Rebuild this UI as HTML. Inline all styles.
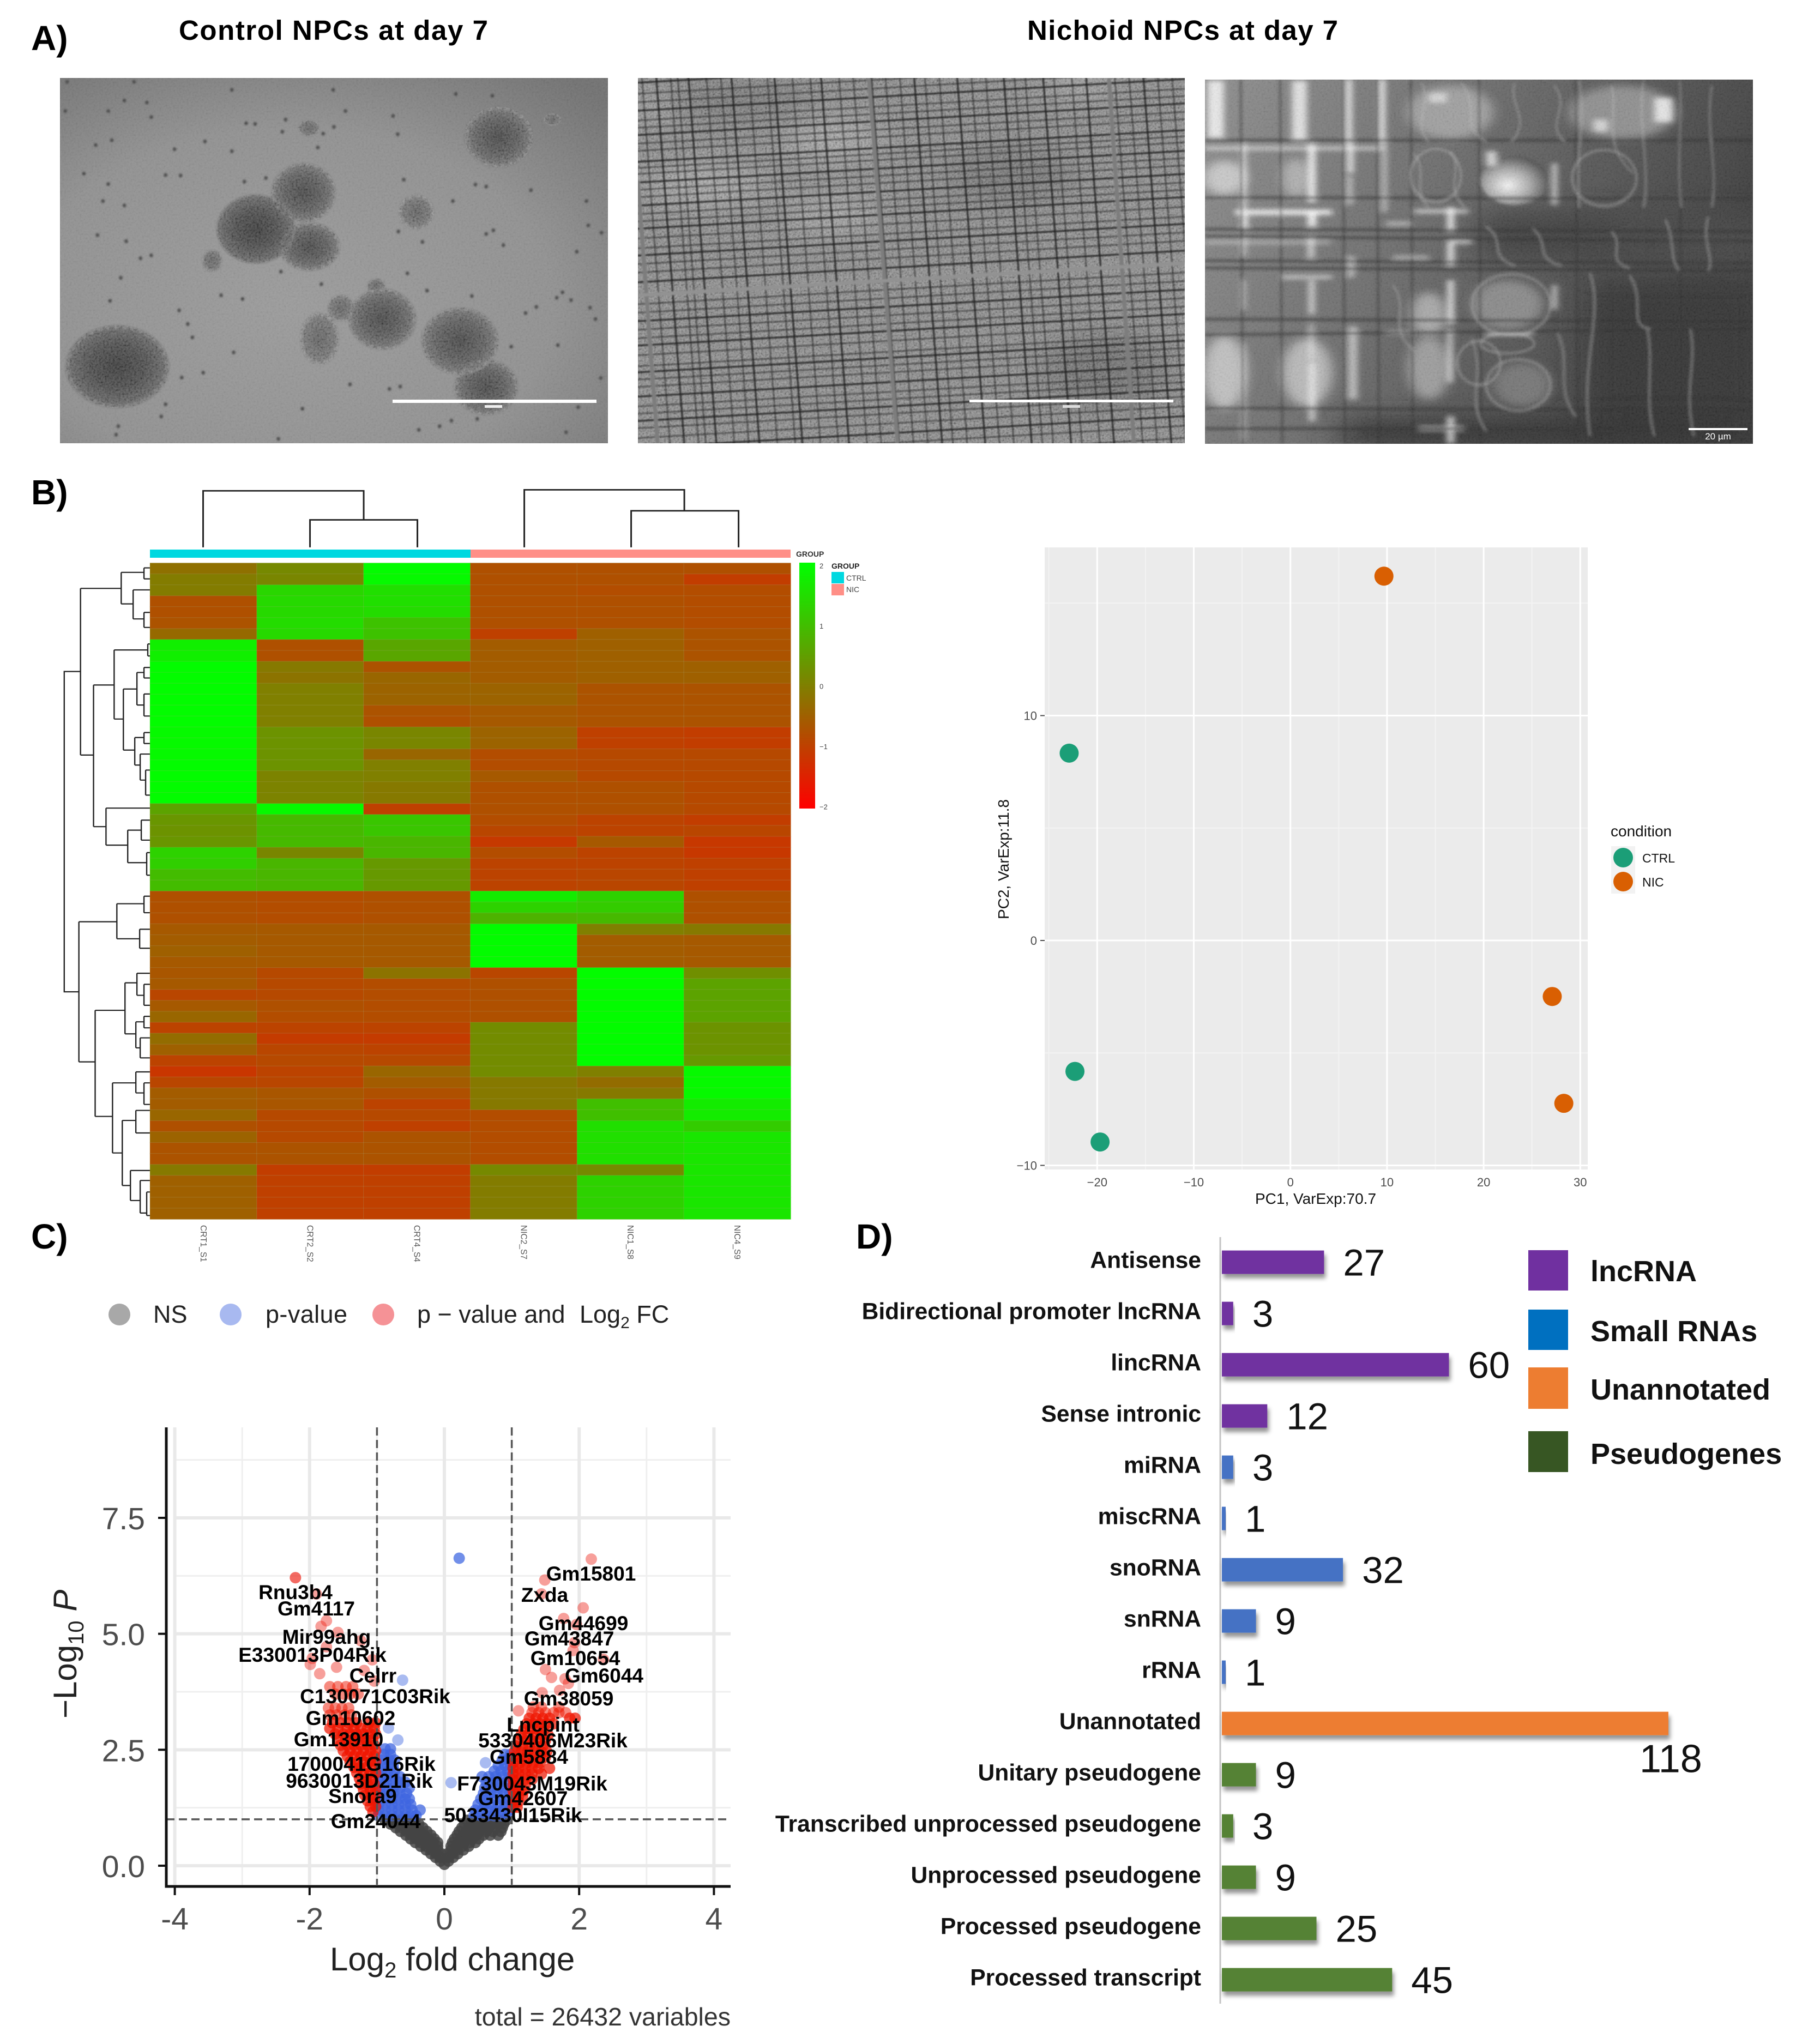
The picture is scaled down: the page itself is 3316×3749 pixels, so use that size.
<!DOCTYPE html>
<html lang="en">
<head>
<meta charset="utf-8">
<title>NPC figure</title>
<style>
html,body{margin:0;padding:0;background:#fff}
svg{display:block}
text{font-family:"Liberation Sans",sans-serif}
.ph{font-weight:bold;font-size:64px;fill:#000}
.ttl{font-weight:bold;font-size:51px;fill:#000}
.vl{font-weight:bold;font-size:37px;fill:#000;text-anchor:middle}
</style>
</head>
<body>
<svg id="fig" xmlns="http://www.w3.org/2000/svg" width="3316" height="3749" viewBox="0 0 3316 3749">
<defs>
<clipPath id="c1"><rect x="110" y="143" width="1005" height="670"/></clipPath>
<clipPath id="c2"><rect x="1170" y="143" width="1003" height="670"/></clipPath>
<clipPath id="c3"><rect x="2210" y="146" width="1005" height="668"/></clipPath>
<clipPath id="sphClip" transform="translate(100,130) scale(.657,.4464)">
 <ellipse cx="800" cy="975" rx="38" ry="55"/><ellipse cx="740" cy="1100" rx="55" ry="108"/><ellipse cx="898" cy="885" rx="26" ry="32"/>
 <ellipse cx="175" cy="1215" rx="145" ry="170"/><ellipse cx="1240" cy="272" rx="96" ry="125"/><ellipse cx="695" cy="500" rx="90" ry="122"/>
 <ellipse cx="712" cy="722" rx="85" ry="100"/><ellipse cx="562" cy="650" rx="110" ry="142"/><ellipse cx="1010" cy="580" rx="50" ry="72"/>
 <ellipse cx="915" cy="1020" rx="95" ry="126"/><ellipse cx="1205" cy="1300" rx="90" ry="115"/><ellipse cx="1132" cy="1110" rx="108" ry="138"/>
 <ellipse cx="440" cy="780" rx="28" ry="46"/><ellipse cx="710" cy="235" rx="30" ry="34"/><ellipse cx="1390" cy="200" rx="24" ry="25"/>
</clipPath>
<filter id="noise" x="0" y="0" width="100%" height="100%"><feTurbulence type="fractalNoise" baseFrequency="0.28" numOctaves="2" seed="4"/><feColorMatrix values="1.6 0 0 0 -.3  1.6 0 0 0 -.3  1.6 0 0 0 -.3  0 0 0 0 1"/></filter>
<filter id="soft" x="-5%" y="-5%" width="110%" height="110%"><feGaussianBlur stdDeviation="1.6"/></filter>
<filter id="softer" x="-5%" y="-5%" width="110%" height="110%"><feGaussianBlur stdDeviation="2.6"/></filter>
<filter id="tiny" x="-2%" y="-2%" width="104%" height="104%"><feGaussianBlur stdDeviation="1"/></filter>
<filter id="blur20" x="-60%" y="-60%" width="220%" height="220%"><feGaussianBlur stdDeviation="16"/></filter>
<filter id="blur50" x="-100%" y="-150%" width="300%" height="400%"><feGaussianBlur stdDeviation="50"/></filter>
<filter id="blur8" x="-100%" y="-30%" width="300%" height="160%"><feGaussianBlur stdDeviation="8"/></filter>
<filter id="barShadow" x="-10%" y="-30%" width="125%" height="180%"><feDropShadow dx="3" dy="8" stdDeviation="4" flood-color="#000" flood-opacity=".42"/></filter>
<radialGradient id="sphDark"><stop offset="0" stop-color="#2f2f2f"/><stop offset=".55" stop-color="#444"/><stop offset=".92" stop-color="#606060"/><stop offset="1" stop-color="#777"/></radialGradient>
<radialGradient id="sphMid"><stop offset="0" stop-color="#3c3c3c"/><stop offset=".6" stop-color="#555"/><stop offset=".93" stop-color="#6e6e6e"/><stop offset="1" stop-color="#808080"/></radialGradient>
<radialGradient id="sphLight"><stop offset="0" stop-color="#5a5a5a"/><stop offset=".8" stop-color="#707070"/><stop offset="1" stop-color="#8a8a8a"/></radialGradient>
<radialGradient id="bg1" cx=".42" cy=".62" r=".8"><stop offset="0" stop-color="#9c9c9c"/><stop offset=".6" stop-color="#929292"/><stop offset="1" stop-color="#727272"/></radialGradient>
<linearGradient id="bg3" x1="0" x2="1" y1="0" y2=".35"><stop offset="0" stop-color="#8e8e8e"/><stop offset=".45" stop-color="#6d6d6d"/><stop offset="1" stop-color="#3d3d3d"/></linearGradient>
<linearGradient id="ramp" x1="0" y1="0" x2="0" y2="1"><stop offset="0" stop-color="#00ff00"/><stop offset="1" stop-color="#ff0000"/></linearGradient>
<radialGradient id="cellGlow" cx=".4" cy=".6" r=".6"><stop offset="0" stop-color="#f4f4f4"/><stop offset=".55" stop-color="#a8a8a8"/><stop offset="1" stop-color="#555"/></radialGradient>
</defs>
<rect width="3316" height="3749" fill="#fff"/>

<text class="ph" x="57" y="92">A)</text>
<text class="ttl" x="328" y="73" textLength="567">Control NPCs at day 7</text>
<text class="ttl" x="1884" y="73" textLength="570">Nichoid NPCs at day 7</text>
<text class="ph" x="57" y="925">B)</text>
<text class="ph" x="57" y="2290">C)</text>
<text class="ph" x="1570" y="2290">D)</text>

<!-- Micrograph 1 -->
<g clip-path="url(#c1)">
 <rect x="110" y="143" width="1005" height="670" fill="url(#bg1)"/>
 <g filter="url(#soft)"><g id="p1" transform="translate(100,130) scale(.657,.4464)">
  <ellipse cx="800" cy="975" rx="38" ry="55" fill="url(#sphLight)"/>
  <ellipse cx="740" cy="1100" rx="55" ry="108" fill="url(#sphLight)"/>
  <ellipse cx="898" cy="885" rx="26" ry="32" fill="url(#sphLight)"/>
  <ellipse cx="175" cy="1215" rx="145" ry="170" fill="url(#sphDark)"/>
  <ellipse cx="1240" cy="272" rx="96" ry="125" fill="url(#sphMid)"/>
  <ellipse cx="695" cy="500" rx="90" ry="122" fill="url(#sphMid)"/>
  <ellipse cx="712" cy="722" rx="85" ry="100" fill="url(#sphMid)"/>
  <ellipse cx="562" cy="650" rx="110" ry="142" fill="url(#sphDark)"/>
  <ellipse cx="1010" cy="580" rx="50" ry="72" fill="url(#sphLight)"/>
  <ellipse cx="915" cy="1020" rx="95" ry="126" fill="url(#sphMid)"/>
  <ellipse cx="1205" cy="1300" rx="90" ry="115" fill="url(#sphMid)"/>
  <ellipse cx="1132" cy="1110" rx="108" ry="138" fill="url(#sphMid)"/>
  <ellipse cx="440" cy="780" rx="28" ry="46" fill="url(#sphLight)"/>
  <ellipse cx="710" cy="235" rx="30" ry="34" fill="url(#sphLight)"/>
  <ellipse cx="1390" cy="200" rx="24" ry="25" fill="url(#sphLight)"/>
  <g fill="none" stroke="#b8b8b8" stroke-opacity=".42" stroke-dasharray="6 9">
   <ellipse vector-effect="non-scaling-stroke" stroke-width="3" cx="1240" cy="272" rx="88" ry="116"/>
   <ellipse vector-effect="non-scaling-stroke" stroke-width="3" cx="695" cy="500" rx="84" ry="114"/>
   <ellipse vector-effect="non-scaling-stroke" stroke-width="3" cx="712" cy="722" rx="78" ry="92"/>
   <ellipse vector-effect="non-scaling-stroke" stroke-width="3" cx="915" cy="1020" rx="88" ry="118"/>
   <ellipse vector-effect="non-scaling-stroke" stroke-width="3" cx="1205" cy="1300" rx="83" ry="107"/>
   <ellipse vector-effect="non-scaling-stroke" stroke-width="3" cx="1132" cy="1110" rx="100" ry="130"/>
   <ellipse vector-effect="non-scaling-stroke" stroke-width="3" cx="175" cy="1215" rx="136" ry="160"/>
   <ellipse vector-effect="non-scaling-stroke" stroke-width="3" cx="740" cy="1100" rx="48" ry="98"/>
   <ellipse vector-effect="non-scaling-stroke" stroke-width="3" cx="1010" cy="580" rx="44" ry="64"/>
  </g>
  <g id="cells1" fill="#4a4a4a"></g>
 </g></g>
 <rect x="110" y="143" width="1005" height="670" filter="url(#noise)" opacity=".05"/>
 <g clip-path="url(#sphClip)"><rect x="110" y="143" width="1005" height="670" filter="url(#noise)" opacity=".16"/></g>
 <rect x="720" y="733" width="374" height="6" fill="#fff"/>
 <rect x="889" y="743" width="32" height="5" fill="#eee"/>
</g>

<!-- Micrograph 2 -->
<g clip-path="url(#c2)">
 <rect x="1170" y="143" width="1003" height="670" fill="#858585"/>
 <g transform="translate(1160,130) scale(.657,.4464)">
  <ellipse cx="560" cy="280" rx="130" ry="100" fill="#a0a0a0" filter="url(#blur50)"/>
  <ellipse cx="200" cy="470" rx="170" ry="90" fill="#a0a0a0" filter="url(#blur50)"/>
  <ellipse cx="560" cy="590" rx="120" ry="70" fill="#a0a0a0" filter="url(#blur50)"/>
  <ellipse cx="70" cy="150" rx="60" ry="60" fill="#a0a0a0" filter="url(#blur50)"/>
  <ellipse cx="1250" cy="60" rx="90" ry="40" fill="#a5a5a5" filter="url(#blur50)"/>
  <ellipse cx="1050" cy="430" rx="170" ry="130" fill="#6e6e6e" filter="url(#blur50)"/>
  <ellipse cx="300" cy="120" rx="200" ry="80" fill="#707070" filter="url(#blur50)"/>
  <ellipse cx="1320" cy="1230" rx="170" ry="160" fill="#666" filter="url(#blur50)"/>
 </g>
 <rect x="1170" y="143" width="1003" height="670" filter="url(#noise)" opacity=".26"/>
 <g filter="url(#tiny)"><g id="grid2" transform="translate(1160,130) scale(.657,.4464)"></g></g>
 <rect x="1778" y="733" width="374" height="5" fill="#fff"/>
 <rect x="1949" y="743" width="32" height="5" fill="#ddd"/>
</g>

<!-- Micrograph 3 -->
<g clip-path="url(#c3)">
 <rect x="2210" y="146" width="1005" height="668" fill="url(#bg3)"/>
 <g filter="url(#softer)"><g transform="translate(2200,130) scale(.657,.4464)">
  <rect x="1080" y="860" width="500" height="700" fill="#353535" filter="url(#blur50)"/>
  <rect x="1080" y="590" width="500" height="240" fill="#444" filter="url(#blur50)"/>
  <rect x="400" y="1430" width="1150" height="120" fill="#333" filter="url(#blur50)"/>
  <rect x="780" y="580" width="380" height="200" fill="#3f3f3f" filter="url(#blur50)"/>
  <ellipse cx="700" cy="170" rx="120" ry="110" fill="#a0a0a0" filter="url(#blur20)"/>
  <ellipse cx="1180" cy="170" rx="150" ry="110" fill="#909090" filter="url(#blur20)"/>
  <ellipse cx="880" cy="450" rx="95" ry="100" fill="url(#cellGlow)"/>
  <ellipse cx="70" cy="440" rx="60" ry="70" fill="#c8c8c8" filter="url(#blur20)"/>
  <ellipse cx="860" cy="960" rx="100" ry="100" fill="#8a8a8a" filter="url(#blur20)"/>
  <ellipse cx="70" cy="1240" rx="60" ry="150" fill="#c0c0c0" filter="url(#blur20)"/>
  <ellipse cx="640" cy="1000" rx="50" ry="90" fill="#a8a8a8" filter="url(#blur20)"/>
  <ellipse cx="640" cy="1220" rx="60" ry="130" fill="#9c9c9c" filter="url(#blur20)"/>
  <ellipse cx="300" cy="1240" rx="70" ry="140" fill="#b8b8b8" filter="url(#blur20)"/>
  <ellipse cx="270" cy="440" rx="40" ry="80" fill="#b0b0b0" filter="url(#blur20)"/>
  <ellipse cx="900" cy="1290" rx="80" ry="90" fill="#777" filter="url(#blur20)"/>
  <g id="bright3" fill="#fff" filter="url(#blur8)"></g>
  <g id="dark3" fill="none" stroke="#2e2e2e" stroke-opacity=".62"></g>
  <g fill="none" stroke="#c4c4c4" stroke-opacity=".55">
   <path vector-effect="non-scaling-stroke" stroke-width="2.5" d="M1340 40C1350 200 1330 350 1345 560M1430 60C1410 250 1450 400 1430 560M1060 40C1080 200 1050 300 1060 560M1240 40C1220 200 1260 400 1240 560M1150 60C1170 180 1120 300 1210 420M1370 1060C1390 1200 1350 1300 1380 1500M1250 1060C1270 1200 1240 1350 1270 1500M1090 830C1130 1000 1060 1200 1090 1500M620 50C650 140 590 220 640 290M730 50C790 150 720 220 800 290M880 50C860 140 930 200 870 290M990 60C1040 150 960 220 1020 290M1300 610C1330 700 1310 780 1340 820M1420 600C1400 700 1440 780 1420 820M1200 840C1250 950 1190 1050 1260 1060M600 340C640 420 590 500 640 560M700 330C740 400 680 480 740 560M540 880C590 980 520 1060 600 1150M760 1100C800 1250 740 1350 800 1480M1000 1080C1040 1200 990 1300 1050 1420M800 640C860 700 800 760 880 800M930 650C980 700 930 770 1010 800M1150 660C1190 720 1130 780 1200 810"/>
   <ellipse vector-effect="non-scaling-stroke" stroke-width="3" cx="890" cy="1290" rx="90" ry="105"/>
   <ellipse vector-effect="non-scaling-stroke" stroke-width="3" cx="870" cy="960" rx="110" ry="125"/>
   <ellipse vector-effect="non-scaling-stroke" stroke-width="3" cx="1130" cy="440" rx="90" ry="115"/>
   <ellipse vector-effect="non-scaling-stroke" stroke-width="3" cx="660" cy="430" rx="70" ry="110"/>
   <ellipse vector-effect="non-scaling-stroke" stroke-width="3" cx="860" cy="1120" rx="75" ry="40"/>
   <ellipse vector-effect="non-scaling-stroke" stroke-width="3" cx="780" cy="1200" rx="60" ry="90"/>
  </g>
 </g></g>
 <rect x="2210" y="146" width="1005" height="668" filter="url(#noise)" opacity=".07"/>
 <rect x="3097" y="785" width="108" height="4" fill="#fff"/>
 <text x="3151" y="806" font-size="17" fill="#fff" text-anchor="middle">20 µm</text>
</g>

<!-- Heatmap -->
<g id="heatmapPanel">
 <g transform="translate(80,880) scale(.995,.918)" fill="none" stroke="#222" stroke-width="3">
  <path d="M294 135V22H590V80M491 135V80H689V135M886 135V20H1181V62M1083 135V62H1281V135"/>
 </g>
 <g transform="translate(80,880) scale(.995,.918)" fill="none" stroke="#222" stroke-width="2.4">
  <path d="M68 383H38V1023H65M68 217V550M68 217H143M143 185V248M143 185H185M185 176V198M185 176H196M185 198H196M143 248H165M165 220V278M165 220H196M165 278H185M185 265V295M185 265H196M185 295H196M68 550H92M92 410V693M92 410H130M130 340V478M130 340H192M192 328V352M192 328H196M192 352H196M130 478H147M147 418V540M147 418H172M172 385V450M172 385H185M185 375V396M185 375H196M185 396H196M172 450H185M185 428V472M185 428H196M185 472H196M147 540H168M168 515V570M168 515H185M185 505V527M185 505H196M185 527H196M168 570H178M178 548V600M178 548H196M178 600H188M188 580V630M188 580H196M188 630H196M92 693H115M115 656V730M115 656H196M115 730H155M155 700V765M155 700H180M180 680V720M180 680H196M180 720H196M155 765H190M190 745V790M190 745H196M190 790H196"/>
  <path d="M65 883V1163M65 883H135M135 847V917M135 847H185M185 832V865M185 832H196M185 865H196M135 917H177M177 898V936M177 898H196M177 936H196M65 1163H95M95 1060V1272M95 1060H150M150 1005V1107M150 1005H172M172 986V1030M172 986H196M172 1030H185M185 1008V1050M185 1008H196M185 1050H196M150 1107H170M170 1083V1135M170 1083H185M185 1072V1095M185 1072H196M185 1095H196M170 1135H178M178 1115V1155M178 1115H196M178 1155H196M95 1272H127M127 1205V1345M127 1205H170M170 1183V1225M170 1183H196M170 1225H185M185 1205V1248M185 1205H196M185 1248H196M127 1345H145M145 1280V1410M145 1280H170M170 1260V1305M170 1260H196M170 1305H196M145 1410H160M160 1380V1440M160 1380H196M160 1440H178M178 1400V1465M178 1400H196M178 1465H190M190 1423V1470M190 1423H196M190 1470H196"/>
 </g>
 <rect x="275" y="1008" width="588" height="15" fill="#00d8e0"/>
 <rect x="863" y="1008" width="587" height="15" fill="#ff8f87"/>
 <text x="1460" y="1021" font-size="14" font-weight="bold" fill="#333">GROUP</text>
 <g id="heatCells"></g>
 <g id="heatLabels"></g>
 <rect x="1466" y="1032" width="29" height="451" fill="url(#ramp)"/>
 <g id="rampTicks"></g>
 <text x="1525" y="1043" font-size="14" font-weight="bold" fill="#222">GROUP</text>
 <rect x="1525" y="1049" width="23" height="21" fill="#00d8e0"/>
 <rect x="1525" y="1071" width="23" height="21" fill="#ff8f87"/>
 <text x="1552" y="1065" font-size="14" fill="#444">CTRL</text>
 <text x="1552" y="1086" font-size="14" fill="#444">NIC</text>
</g>

<!-- PCA -->
<g id="pcaPanel">
 <rect x="1916" y="1004" width="996" height="1141" fill="#ebebeb"/>
 <g id="pcaGrid"></g>
 <g id="pcaTicks"></g>
 <g id="pcaPoints"></g>
 <text x="2413" y="2208" font-size="28" fill="#111" text-anchor="middle">PC1, VarExp:70.7</text>
 <text transform="translate(1850,1576) rotate(-90)" font-size="28" fill="#111" text-anchor="middle">PC2, VarExp:11.8</text>
 <text x="2954" y="1534" font-size="28" fill="#111">condition</text>
 <rect x="2955" y="1552" width="44" height="87" fill="#f2f2f2"/>
 <circle cx="2977" cy="1573" r="18" fill="#1b9e77"/>
 <circle cx="2977" cy="1617" r="18" fill="#d95f02"/>
 <text x="3012" y="1582" font-size="23" fill="#111">CTRL</text>
 <text x="3012" y="1626" font-size="23" fill="#111">NIC</text>
</g>

<!-- Volcano legend -->
<g>
 <circle cx="219" cy="2411" r="20" fill="#a8a8a8"/>
 <circle cx="423" cy="2411" r="20" fill="#a8b9f0"/>
 <circle cx="703" cy="2411" r="20" fill="#f59296"/>
 <text x="281" y="2426" font-size="45" fill="#222">NS</text>
 <text x="487" y="2426" font-size="45" fill="#222" textLength="150">p-value</text>
 <text x="765" y="2426" font-size="45" fill="#222">p − value and<tspan dx="14"> Log</tspan><tspan font-size="30" dy="10">2</tspan><tspan dy="-10"> FC</tspan></text>
</g>

<!-- Volcano -->
<g id="volcanoPanel">
 <g id="volGrid"></g>
 <g id="volPoints"></g>
 <g id="volGuides"></g>
 <path d="M305 2618V3460H1340" fill="none" stroke="#111" stroke-width="5"/>
 <g id="volTicks"></g>
 <g>
  <text class="vl" x="542" y="2933">Rnu3b4</text>
  <text class="vl" x="580" y="2963">Gm4117</text>
  <text class="vl" x="599" y="3015">Mir99ahg</text>
  <text class="vl" x="573" y="3048">E330013P04Rik</text>
  <text class="vl" x="684" y="3086">Celrr</text>
  <text class="vl" x="688" y="3124">C130071C03Rik</text>
  <text class="vl" x="643" y="3164">Gm10602</text>
  <text class="vl" x="621" y="3203">Gm13910</text>
  <text class="vl" x="663" y="3248">1700041G16Rik</text>
  <text class="vl" x="659" y="3279">9630013D21Rik</text>
  <text class="vl" x="665" y="3307">Snora9</text>
  <text class="vl" x="689" y="3353">Gm24044</text>
  <text class="vl" x="1084" y="2899">Gm15801</text>
  <text class="vl" x="999" y="2938">Zxda</text>
  <text class="vl" x="1070" y="2990">Gm44699</text>
  <text class="vl" x="1044" y="3018">Gm43847</text>
  <text class="vl" x="1055" y="3054">Gm10654</text>
  <text class="vl" x="1108" y="3086">Gm6044</text>
  <text class="vl" x="1043" y="3128">Gm38059</text>
  <text class="vl" x="996" y="3176">Lncpint</text>
  <text class="vl" x="1014" y="3205">5330406M23Rik</text>
  <text class="vl" x="970" y="3235">Gm5884</text>
  <text class="vl" x="976" y="3284">F730043M19Rik</text>
  <text class="vl" x="959" y="3311">Gm42607</text>
  <text class="vl" x="941" y="3342">5033430I15Rik</text>
 </g>
 <text x="605" y="3614" font-size="60" fill="#222">Log<tspan font-size="40" dy="13">2</tspan><tspan dy="-13"> fold change</tspan></text>
 <text transform="translate(140,3152) rotate(-90)" font-size="60" fill="#222">−Log<tspan font-size="40" dy="13">10</tspan><tspan dy="-13" font-style="italic"> P</tspan></text>
 <text x="1340" y="3715" font-size="46.5" fill="#333" text-anchor="end">total = 26432 variables</text>
</g>

<!-- Bars -->
<g id="barPanel">
 <line x1="2238" y1="2269" x2="2238" y2="3675" stroke="#c4c4c4" stroke-width="3"/>
 <g id="bars"></g>
 <rect x="2803" y="2293" width="73" height="74" fill="#7030a0"/>
 <rect x="2803" y="2402" width="73" height="74" fill="#0070c0"/>
 <rect x="2803" y="2508" width="73" height="76" fill="#ed7d31"/>
 <rect x="2803" y="2625" width="73" height="75" fill="#375623"/>
 <text x="2917" y="2350" font-size="54" font-weight="bold" fill="#111">lncRNA</text>
 <text x="2917" y="2460" font-size="54" font-weight="bold" fill="#111">Small RNAs</text>
 <text x="2917" y="2567" font-size="54" font-weight="bold" fill="#111">Unannotated</text>
 <text x="2917" y="2685" font-size="54" font-weight="bold" fill="#111">Pseudogenes</text>
</g>
</svg>

<script>
// ---------- Heatmap values (z-scores, 60 genes per sample) ----------
const heatSamples = ["CRT1_S1","CRT2_S2","CRT4_S4","NIC2_S7","NIC1_S8","NIC4_S9"];
const heatCRT1 = [-.25,-.05,-.05,-.75,-.75,-.7,-.35,1.75,1.75,1.95,
 1.95,1.95,1.95,1.95,1.95,1.9,1.9,1.9,1.95,1.95,
 1.95,1.95,.55,.35,.3,.35,1.3,1.25,.95,.95,
 -.75,-.75,-.75,-.6,-.55,-.5,-.6,-.65,-.6,-.9,
 -.6,-.4,-.95,-.3,-.5,-.95,-1.15,-.9,-.55,-.55,
 -.4,-.75,-.45,-.7,-.7,-.1,-.5,-.5,-.5,-.5];
const heatCRT2 = [.15,.1,1.35,1.4,1.4,1.45,1.4,-.75,-.75,-.1,
 -.2,0,0,0,0,.3,.3,.3,.3,.05,
 .05,.05,1.9,.9,.9,.9,.1,.85,.85,.85,
 -.8,-.8,-.8,-.6,-.6,-.6,-.6,-.85,-.85,-.85,
 -.75,-.8,-.95,-1.08,-.9,-.85,-.95,-.9,-.65,-.65,
 -.85,-.85,-.85,-.7,-.7,-1.05,-1,-1,-1,-1];
const heatCRT3 = [1.95,1.9,1.5,1.5,1.45,1.05,1.05,.6,.6,-.7,
 -.4,-.45,-.45,-.7,-.75,.1,.1,-.4,0,0,
 -.1,-.1,-1,1.1,1.1,.85,.85,.4,.4,.4,
 -.75,-.75,-.75,-.6,-.6,-.6,-.6,-.2,-.8,-.8,
 -.8,-.8,-.95,-1.08,-.95,-.85,-.4,-.55,-.75,-.95,
 -.85,-1,-.7,-.7,-.7,-1.05,-1,-1,-1,-1];
const heatNIC2 = [-.75,-.75,-.75,-.75,-.75,-.75,-1,-.55,-.55,-.55,
 -.55,-.45,-.45,-.6,-.6,-.45,-.45,-.8,-.8,-.6,
 -.75,-.75,-.75,-.8,-.9,-1.1,-.8,-.95,-.95,-.95,
 1.7,1.3,.8,1.95,1.95,1.95,1.95,-.9,-.75,-.75,
 -.75,-.75,.2,.2,.2,.2,.2,-.1,-.1,-.1,
 -.8,-.8,-.8,-.8,-.8,.15,-.05,-.05,-.05,-.05];
const heatNIC1 = [-.75,-.75,-.8,-.75,-.75,-.75,-.5,-.5,-.5,-.5,
 -.5,-.7,-.7,-.7,-.7,-1,-1,-.85,-.85,-.85,
 -.75,-.75,-.75,-.95,-.95,-.6,-.95,-.95,-.9,-.9,
 1.3,1.2,.9,0,-.55,-.55,-.55,1.95,1.95,1.95,
 1.95,1.95,1.95,1.95,1.95,1.95,0,-.3,-.1,1,
 1,1.5,1.5,1.5,1.5,.15,1.3,1.3,1.3,1.3];
const heatNIC4 = [-.75,-1.05,-.8,-.8,-.8,-.8,-.7,-.7,-.7,-.5,
 -.5,-.7,-.7,-.7,-.7,-1.05,-1.05,-.85,-.85,-.85,
 -.85,-.85,-.85,-1.05,-.9,-1.12,-1.12,-1,-1,-1,
 -.75,-.75,-.75,-.1,-.6,-.6,-.6,.25,.55,.55,
 .55,.55,.3,.3,.3,.4,1.9,1.9,1.9,1.7,
 1.7,1.2,1.6,1.6,1.6,1.6,1.6,1.6,1.6,1.6];
const heatColumns = [heatCRT1,heatCRT2,heatCRT3,heatNIC2,heatNIC1,heatNIC4];
const rampTicks = [2,1,0,-1,-2];

// ---------- PCA values ----------
const pcaCtrlPC1 = [-22.9,-22.3,-19.7];
const pcaCtrlPC2 = [8.33,-5.82,-8.96];
const pcaNicPC1 = [9.68,27.1,28.3];
const pcaNicPC2 = [16.2,-2.49,-7.24];
const pcaXTicks = [-20,-10,0,10,20,30];
const pcaYTicks = [-10,0,10];
const pcaXMinor = [-25,-15,-5,5,15,25];
const pcaYMinor = [-5,5,15];

// ---------- Volcano values: [-log10 P, [log2 fold changes read at that height]] ----------
const nsRows = [[.03,[0]],[.1,[-.06,.06]],[.18,[-.13,-.06,.06,.13]],[.26,[-.2,-.12,-.05,.05,.12,.2]],
 [.34,[-.27,-.19,-.1,.1,.19,.28]],[.42,[-.35,-.27,-.18,-.1,.1,.18,.27,.36]],
 [.5,[-.43,-.35,-.26,-.17,-.1,.12,.2,.29,.38,.46]],[.58,[-.5,-.42,-.33,-.24,-.15,.15,.24,.33,.42,.51]],
 [.66,[-.57,-.49,-.4,-.3,-.2,.19,.28,.38,.48,.58,.68,.8]],[.74,[-.65,-.56,-.46,-.36,-.26,.22,.32,.42,.52,.62,.72,.84]],
 [.82,[-.72,-.63,-.52,-.42,-.32,.26,.36,.46,.56,.66,.76,.86]],[.9,[-.8,-.7,-.6,-.5,-.38,.3,.4,.5,.6,.7,.8,.88]],
 [.98,[-.88,-.76,-.66,-.56,-.44,.34,.44,.54,.64,.74,.84,.92]]];
const pOnlyRows = [[1.08,[-.98,-.88,-.78,-.68,-.58,-.5,-.42,.44,.54,.64,.74,.84,.94]],
 [1.2,[-.98,-.88,-.78,-.68,-.58,-.48,-.36,.46,.56,.66,.76,.86,.96]],
 [1.32,[-.98,-.88,-.78,-.68,-.58,-.5,.5,.6,.7,.8,.9,.98]],
 [1.44,[-.98,-.88,-.78,-.68,-.58,-.52,.54,.64,.74,.84,.94]],
 [1.56,[-.96,-.86,-.76,-.66,-.56,.58,.68,.78,.88,.97]],
 [1.68,[-.96,-.86,-.76,-.66,-.52,.6,.7,.8,.9,.98]],
 [1.8,[-.96,-.86,-.76,-.66,-.58,.62,.72,.82,.92]],
 [1.92,[-.95,-.85,-.75,-.66,.56,.66,.76,.86,.96]],
 [2.04,[-.94,-.84,-.74,.74,.84,.94]],[2.16,[-.94,-.84,-.76,.8,.9,.98]],
 [2.28,[-.92,-.82,-.74,.86,.96]],[2.4,[-.9,-.8,.9,.98]],[2.52,[-.88,-.8]]];
const pOnlyOutlierFC = [.22,-.62,-.83,-.69,.61,.1];
const pOnlyOutlierP = [6.63,4.0,2.97,2.71,2.22,1.79];
const sigRows = [[3.86,[-1.7,-1.58,-1.46,-1.36]],[3.7,[-1.62,-1.5,-1.4,-1.28]],
 [3.42,[1.32,1.44,1.7]],[3.4,[-1.72,-1.62,-1.52,-1.42]],
 [3.3,[1.3,1.4,1.5,1.62,1.7,1.8]],[3.25,[-1.7,-1.6,-1.48,-1.38]],
 [3.18,[1.26,1.36,1.46,1.56,1.86,1.94]],[3.08,[-1.66,-1.54,-1.42,-1.3,-1.12,-1.02]],
 [3.06,[1.22,1.32,1.42,1.52,1.62]],[2.96,[-1.7,-1.58,-1.44,-1.34,-1.24,-1.14,-1.04]],
 [2.94,[1.18,1.28,1.38,1.48]],[2.84,[-1.62,-1.5,-1.4,-1.3,-1.2,-1.1,-1.02]],
 [2.82,[1.14,1.24,1.34,1.44,1.54]],[2.72,[-1.58,-1.46,-1.36,-1.26,-1.16,-1.06]],
 [2.7,[1.1,1.2,1.3,1.4,1.5]],[2.6,[-1.54,-1.44,-1.34,-1.24,-1.14,-1.04]],
 [2.58,[1.06,1.16,1.26,1.36,1.46]],[2.48,[-1.5,-1.4,-1.3,-1.2,-1.1,-1.02]],
 [2.46,[1.04,1.14,1.24,1.34,1.44,1.52]],[2.36,[-1.44,-1.34,-1.24,-1.14,-1.04]],
 [2.34,[1.02,1.12,1.22,1.32,1.42,1.5]],[2.24,[-1.4,-1.3,-1.2,-1.1,-1.02]],
 [2.22,[1.02,1.12,1.22,1.32,1.42]],[2.12,[-1.34,-1.26,-1.16,-1.06]],
 [2.1,[1.02,1.1,1.2,1.3,1.4,1.56]],[2.0,[-1.3,-1.2,-1.1,-1.02]],
 [1.98,[1.02,1.1,1.2,1.3,1.44]],[1.88,[-1.26,-1.16,-1.06]],[1.86,[1.02,1.1,1.2,1.3]],
 [1.76,[-1.24,-1.14,-1.04]],[1.74,[1.02,1.1,1.2]],[1.64,[-1.2,-1.1,-1.02]],
 [1.62,[1.02,1.1,1.18]],[1.52,[-1.18,-1.08,-1.02]],[1.5,[1.02,1.1,1.16]],
 [1.4,[-1.14,-1.04]],[1.38,[1.02,1.1]],[1.28,[-1.1,-1.02]],[1.26,[1.02,1.08]],[1.16,[-1.06]]];
const sigOutlierFC = [-2.21,-2.21,2.18,1.49,1.44,2.06,1.77,1.96,1.93,1.91,2.36,1.5,1.59,1.79,1.84,1.71,1.45,1.10,
 -1.9,-1.75,-1.83,-1.58,-1.75,-1.96,-1.99,-1.85,-1.6,-1.19,-1.04,-1.07,-1.24];
const sigOutlierP = [6.21,6.21,6.61,6.16,5.86,5.56,5.33,5.2,4.81,4.64,4.45,4.23,4.06,4.03,3.93,3.78,3.73,3.34,
 5.86,5.28,5.16,5.03,4.72,4.47,4.34,4.14,4.28,4.21,3.98,4.44,4.85];
const volXTicks = [-4,-2,0,2,4];
const volYTicks = [0,2.5,5,7.5];
const volXMinor = [-3,-1,1,3];
const volYMinor = [1.25,3.75,6.25,8.75];
const volFCCut = [-1,1];
const volPCut = [1];

// ---------- Biotype bars ----------
const barNames = ["Antisense","Bidirectional promoter lncRNA","lincRNA","Sense intronic","miRNA","miscRNA","snoRNA","snRNA","rRNA","Unannotated","Unitary pseudogene","Transcribed unprocessed pseudogene","Unprocessed pseudogene","Processed pseudogene","Processed transcript"];
const barCounts = [27,3,60,12,3,1,32,9,1,118,9,3,9,25,45];
const barGroups = ["lnc","lnc","lnc","lnc","small","small","small","small","small","un","pseudo","pseudo","pseudo","pseudo","pseudo"];

const NS = "http://www.w3.org/2000/svg";
function mk(tag, parent, attrs, txt){
  const e = document.createElementNS(NS, tag);
  for (const k in attrs) e.setAttribute(k, attrs[k]);
  if (txt !== undefined) e.textContent = txt;
  parent.appendChild(e);
  return e;
}
const $ = id => document.getElementById(id);

// Heatmap
const hmX0=275, hmY0=1032.5, hmCol=195.83, hmRow=(2236-1032.5)/60;
const hmColor = v => `rgb(${Math.round(255*(2-v)/4)},${Math.round(255*(2+v)/4)},0)`;
heatColumns.forEach((col,c)=>{
  col.forEach((v,r)=>{
    const cell = mk("rect",$("heatCells"),{x:hmX0+c*hmCol,y:hmY0+r*hmRow,width:hmCol+.5,height:hmRow+.5,fill:hmColor(v),stroke:"rgba(170,170,120,.22)","stroke-width":1.2});
    
    
  });
  const cx = hmX0+(c+.5)*hmCol;
  const lb = mk("text",$("heatLabels"),{transform:`translate(${cx-5},2247) rotate(90)`,"font-size":15.5,fill:"#555"},heatSamples[c]);
  
  
});
rampTicks.forEach(v=>{
  const y = 1258.5-(v*110.6);
  const t = mk("text",$("rampTicks"),{x:1503,y:y+5,"font-size":13,fill:"#444"},v<0?"−"+(-v):String(v));
  
  
});

// PCA
const pcaX = v => 2366.7+v*17.72;
const pcaY = v => 1725-v*41.25;
pcaXMinor.forEach(v=>{ const l=mk("line",$("pcaGrid"),{x1:pcaX(v),x2:pcaX(v),y1:1004,y2:2145,stroke:"#f3f3f3","stroke-width":2});
  
   });
pcaYMinor.forEach(v=>{ const l=mk("line",$("pcaGrid"),{y1:pcaY(v),y2:pcaY(v),x1:1916,x2:2912,stroke:"#f3f3f3","stroke-width":2});
  
   });
pcaXTicks.forEach(v=>{
  const l=mk("line",$("pcaGrid"),{x1:pcaX(v),x2:pcaX(v),y1:1004,y2:2145,stroke:"#fff","stroke-width":3});
  
  
  const t=mk("text",$("pcaTicks"),{x:pcaX(v),y:2176,"font-size":22,fill:"#4d4d4d","text-anchor":"middle"},v<0?"−"+(-v):String(v));
  
  
});
pcaYTicks.forEach(v=>{
  const l=mk("line",$("pcaGrid"),{y1:pcaY(v),y2:pcaY(v),x1:1916,x2:2912,stroke:"#fff","stroke-width":3});
  
  
  const k=mk("line",$("pcaTicks"),{x1:1908,x2:1916,y1:pcaY(v),y2:pcaY(v),stroke:"#4d4d4d","stroke-width":2});
  
  
  const t=mk("text",$("pcaTicks"),{x:1902,y:pcaY(v)+8,"font-size":22,fill:"#4d4d4d","text-anchor":"end"},v<0?"−"+(-v):String(v));
  
  
});
pcaCtrlPC1.forEach((v,i)=>{ const c=mk("circle",$("pcaPoints"),{cx:pcaX(v),cy:pcaY(pcaCtrlPC2[i]),r:17.5,fill:"#1b9e77"});
  
   });
pcaNicPC1.forEach((v,i)=>{ const c=mk("circle",$("pcaPoints"),{cx:pcaX(v),cy:pcaY(pcaNicPC2[i]),r:17.5,fill:"#d95f02"});
  
   });

// Volcano
const volX = v => 815+v*123.6;
const volY = v => 3422-v*85.07;
const gridCol = "#e9e9e9";
volYMinor.forEach(v=>{ const l=mk("line",$("volGrid"),{x1:318,x2:1340,y1:volY(v),y2:volY(v),stroke:"#efefef","stroke-width":3});
  
   });
volXMinor.forEach(v=>{ const l=mk("line",$("volGrid"),{x1:volX(v),x2:volX(v),y1:2618,y2:3457,stroke:"#efefef","stroke-width":3});
  
   });
volYTicks.forEach(v=>{
  const l=mk("line",$("volGrid"),{x1:318,x2:1340,y1:volY(v),y2:volY(v),stroke:gridCol,"stroke-width":6});
  
  
  const k=mk("line",$("volTicks"),{x1:290,x2:305,y1:volY(v),y2:volY(v),stroke:"#111","stroke-width":4});
  
  
  const t=mk("text",$("volTicks"),{x:266,y:volY(v)+21,"font-size":57,fill:"#4d4d4d","text-anchor":"end"},v.toFixed(1));
  
  
});
volXTicks.forEach(v=>{
  const l=mk("line",$("volGrid"),{x1:volX(v),x2:volX(v),y1:2618,y2:3457,stroke:gridCol,"stroke-width":6});
  
  
  const k=mk("line",$("volTicks"),{x1:volX(v),x2:volX(v),y1:3460,y2:3476,stroke:"#111","stroke-width":4});
  
  
  const t=mk("text",$("volTicks"),{x:volX(v),y:3539,"font-size":57,fill:"#4d4d4d","text-anchor":"middle"},String(v));
  
  
});
function volDot(fc,p,fill,op,name){
  const c=mk("circle",$("volPoints"),{cx:volX(fc),cy:volY(p),r:10.5,fill:fill,"fill-opacity":op});
  
  
}
nsRows.forEach(r=>r[1].forEach(fc=>volDot(fc,r[0],"#444",.85,"volcano-point-ns")));
pOnlyRows.forEach(r=>r[1].forEach(fc=>volDot(fc,r[0],"#3f66e0",.75,"volcano-point-p-value")));
pOnlyOutlierFC.forEach((fc,i)=>volDot(fc,pOnlyOutlierP[i],"#4169e1",i===0?.75:.45,"volcano-point-p-value"));
sigRows.forEach(r=>r[1].forEach(fc=>volDot(fc,r[0],"#ee1500",r[0]>3.2?.5:.72,"volcano-point-significant")));
sigOutlierFC.forEach((fc,i)=>volDot(fc,sigOutlierP[i],"#ee2a20",.45,"volcano-point-significant"));
volFCCut.forEach(v=>{ const l=mk("line",$("volGuides"),{x1:volX(v),x2:volX(v),y1:2618,y2:3457,stroke:"#555","stroke-width":3.5,"stroke-dasharray":"15 8"});
  
   });
volPCut.forEach(v=>{ const l=mk("line",$("volGuides"),{x1:305,x2:1340,y1:volY(v),y2:volY(v),stroke:"#555","stroke-width":3.5,"stroke-dasharray":"15 8"});
  
   });

// Bars
const barColor = {lnc:"#7030a0",small:"#4472c4",un:"#ed7d31",pseudo:"#548235"};
barNames.forEach((n,i)=>{
  const cy = 2315.6+i*94;
  const w = barCounts[i]*6.94;
  const b = mk("rect",$("bars"),{x:2241,y:cy-22,width:w,height:43,fill:barColor[barGroups[i]],filter:"url(#barShadow)"});
  
  
  const l = mk("text",$("bars"),{x:2203,y:cy+10,"font-size":42.6,"font-weight":"bold",fill:"#111","text-anchor":"end"},n);
  
  
  const long = barCounts[i] > 100;
  const vx = long ? 3007 : 2241+w+35;
  const vy = long ? cy+89 : cy+24;
  const t = mk("text",$("bars"),{x:vx,y:vy,"font-size":long?72:69,fill:"#111"},String(barCounts[i]));
  
  
});

// ---------- Micrograph decoration (not chart data) ----------
[[35,45],[222,45],[495,78],[778,78],[1120,95],[1222,102],[195,122],[258,130],[30,165],[150,165],[270,190],[812,165],[945,185],[535,215],[560,218],[645,200],[780,230],[636,250],[750,258],[958,260],[115,305],[160,285],[420,290],[335,322],[495,330],[735,315],[82,422],[310,428],[352,430],[150,465],[530,455],[590,440],[975,447],[1175,467],[1205,475],[1330,490],[135,535],[195,553],[1112,535],[1485,535],[1205,670],[1225,655],[1490,635],[1527,665],[960,660],[120,675],[200,700],[1027,703],[1253,716],[270,758],[240,770],[1458,743],[632,825],[985,832],[185,850],[745,876],[1040,903],[465,922],[525,937],[155,945],[1165,925],[1418,910],[1402,932],[1442,942],[348,984],[1345,970],[1315,995],[1495,973],[372,1040],[1510,1020],[385,1095],[1405,1127],[1275,1133],[500,1157],[415,1240],[355,1260],[1525,1262],[825,1288],[935,1307],[965,1297],[310,1370],[692,1388],[1462,1382],[298,1420],[1108,1437],[1180,1430],[178,1460],[1075,1460],[1017,1475],[172,1495],[1428,1485],[625,1512]].forEach(p=>{
  mk("ellipse",$("cells1"),{cx:p[0],cy:p[1],rx:5,ry:8});
});
const hLines=[50,95,130,165,205,235,265,300,330,375,400,425,460,490,520,555,590,620,650,690,730,760,795,830,870,960,995,1030,1065,1100,1130,1170,1215,1240,1270,1300,1340,1380,1410,1440,1470,1510,1550,1590,1640];
const vLines=[50,90,130,150,180,230,270,300,350,400,420,470,520,550,600,640,690,730,770,810,840,880,930,970,1010,1060,1090,1120,1170,1200,1250,1290,1370,1410,1450,1490,1530];
const g2=$("grid2");
hLines.forEach((y,i)=>mk("line",g2,{x1:0,y1:y,x2:1560,y2:y-133,stroke:"#1a1a1a","stroke-opacity":i%3==0?.8:.55,"stroke-width":i%3==0?3.2:2.5,"vector-effect":"non-scaling-stroke"}));
vLines.forEach((x,i)=>mk("line",g2,{x1:x-25,y1:0,x2:x+55,y2:1540,stroke:"#1a1a1a","stroke-opacity":i%3==1?.8:.55,"stroke-width":i%3==1?3.2:2.5,"vector-effect":"non-scaling-stroke"}));
[[660,30,740,1530],[1330,30,1400,1530],[15,450,70,1530]].forEach(s=>mk("line",g2,{x1:s[0],y1:s[1],x2:s[2],y2:s[3],stroke:"#7d7d7d","stroke-width":7,"vector-effect":"non-scaling-stroke"}));
mk("line",g2,{x1:15,y1:922,x2:1540,y2:790,stroke:"#929292","stroke-width":6,"vector-effect":"non-scaling-stroke"});
[[22,40,46,235,.8],[258,40,42,250,.75],[408,35,18,265,.8],[502,35,16,265,.9],[118,300,12,280,.75],[118,590,16,60,.9],[118,680,12,80,.6],[118,860,10,120,.55],[118,1120,10,400,.45],[302,300,22,240,.85],[302,570,24,70,.9],[302,680,18,90,.65],[305,860,16,140,.7],[305,1040,14,150,.5],[305,1200,18,240,.65],[412,300,18,120,.8],[412,430,14,120,.6],[415,760,16,90,.6],[415,1050,26,300,.55],[510,300,12,280,.65],[692,560,18,100,.9],[692,700,18,100,.85],[692,860,18,180,.8],[692,1060,14,220,.7],[692,1420,18,110,.8],[985,380,12,170,.85],[985,880,12,100,.8],
 [15,312,500,12,.75],[100,570,270,22,.85],[600,570,150,14,.75],[15,700,350,10,.55],[700,695,60,14,.75],[230,840,140,14,.65],[800,1073,130,12,.8],[610,1462,130,14,.8],[520,1070,80,10,.6],[1270,110,50,100,.75],[1100,200,40,50,.6],[640,90,50,40,.55],[800,330,30,60,.7],[520,620,70,14,.6],[540,760,100,12,.6]].forEach(r=>{
  mk("rect",$("bright3"),{x:r[0],y:r[1],width:r[2],height:r[3],"fill-opacity":r[4]});
});
[[285,285],[520,525],[650,660],[680,700],[780,790],[810,820],[1020,1030],[1085,1060],[1385,1395],[1470,1470]].forEach(l=>{
  mk("line",$("dark3"),{x1:15,y1:l[0],x2:1545,y2:l[1],"stroke-width":5,"vector-effect":"non-scaling-stroke"});
});
[115,225,400,495,590,780,1050,1340].forEach(x=>{
  mk("line",$("dark3"),{x1:x,y1:35,x2:x+6,y2:1535,"stroke-width":3.5,"vector-effect":"non-scaling-stroke"});
});
</script>
</body>
</html>
